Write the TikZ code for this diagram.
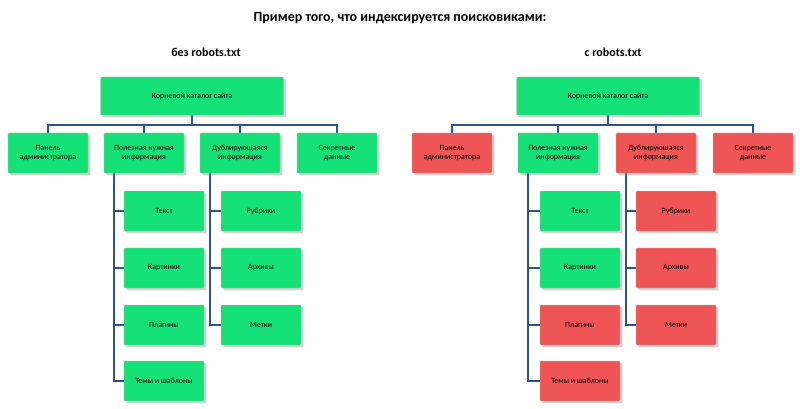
\documentclass[tikz,border=0pt]{standalone}
\usepackage{fontspec}
\setmainfont{Carlito}
\usetikzlibrary{positioning,shadows,backgrounds}
\definecolor{okgreen}{RGB}{20,225,120}
\definecolor{badred}{RGB}{240,85,85}
\definecolor{linkblue}{RGB}{45,85,135}
\begin{document}
\begin{tikzpicture}[x=1pt,y=-1pt,
    ok/.style={draw=white!70!black, fill=okgreen, rounded corners=1pt, drop shadow={opacity=0.35},
      minimum width=80pt, minimum height=40pt, align=center, font=\fontsize{8}{9.5}\selectfont, inner sep=1pt},
    bad/.style={ok, fill=badred},
    wide/.style={minimum width=183pt, minimum height=38pt},
    link/.style={draw=linkblue, line width=2pt},
    ]
    \useasboundingbox (0,0) rectangle (800,409);
    \node[font=\bfseries\fontsize{14}{16}\selectfont] (title) at (400,18) {Пример того, что индексируется поисковиками:};
    \node[font=\bfseries\fontsize{12}{14}\selectfont] (subL) at (206,52) {без robots.txt};
    \node[font=\bfseries\fontsize{12}{14}\selectfont] (subR) at (613,52) {с robots.txt};

    % left tree
    \node[ok, wide] (Lroot) at (192,96) {Корневой каталог сайта};
    \node[ok] (Ladm) at (48,153) {Панель\\администратора};
    \node[ok] (Luse) at (144,153) {Полезная нужная\\информация};
    \node[ok] (Ldup) at (240,153) {Дублирующаяся\\информация};
    \node[ok] (Lsec) at (337,153) {Секретные\\данные};
    \node[ok] (Ltxt) at (164,211) {Текст};
    \node[ok] (Lpic) at (164,268) {Картинки};
    \node[ok] (Lplg) at (164,325) {Плагины};
    \node[ok] (Lthm) at (164,381) {Темы и шаблоны};
    \node[ok] (Lrub) at (261,211) {Рубрики};
    \node[ok] (Larc) at (261,268) {Архивы};
    \node[ok] (Ltag) at (261,325) {Метки};

    % right tree
    \node[ok, wide] (Rroot) at (608,96) {Корневой каталог сайта};
    \node[bad] (Radm) at (452,153) {Панель\\администратора};
    \node[ok] (Ruse) at (558,153) {Полезная нужная\\информация};
    \node[bad] (Rdup) at (656,153) {Дублирующаяся\\информация};
    \node[bad] (Rsec) at (753,153) {Секретные\\данные};
    \node[ok] (Rtxt) at (580,211) {Текст};
    \node[ok] (Rpic) at (580,268) {Картинки};
    \node[bad] (Rplg) at (580,325) {Плагины};
    \node[bad] (Rthm) at (580,381) {Темы и шаблоны};
    \node[bad] (Rrub) at (676,211) {Рубрики};
    \node[bad] (Rarc) at (676,268) {Архивы};
    \node[bad] (Rtag) at (676,325) {Метки};

    % connectors
    \begin{scope}[on background layer]
    \foreach \t in {L,R}{
      \foreach \n in {adm,use,dup,sec}
        \draw[link] (\t root.south) -- ++(0,10) -| (\t\n.north);
      \foreach \n in {txt,pic,plg,thm}
        \draw[link] ([xshift=10pt]\t use.south west) |- (\t\n.west);
      \foreach \n in {rub,arc,tag}
        \draw[link] ([xshift=10pt]\t dup.south west) |- (\t\n.west);
    }
    \end{scope}
\end{tikzpicture}
\end{document}
